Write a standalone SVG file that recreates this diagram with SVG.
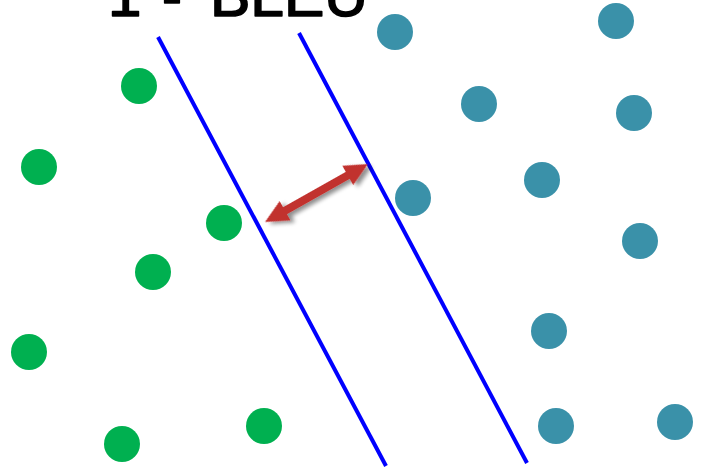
<svg xmlns="http://www.w3.org/2000/svg" width="703" height="475" viewBox="0 0 703 475">
<defs>
<style>
.g{fill:#00b050}
.t{fill:#3a91a9}
.sep{stroke:#0000ff;stroke-width:4;fill:none}
.title{font-family:"Liberation Sans",Arial,sans-serif;font-size:60px;fill:#000;stroke:#000;stroke-width:1.6;stroke-linejoin:round}
</style>
<filter id="sh" x="-20%" y="-40%" width="150%" height="180%">
<feGaussianBlur in="SourceAlpha" stdDeviation="2"/>
<feOffset dx="3" dy="4" result="b"/>
<feComponentTransfer><feFuncA type="linear" slope="0.45"/></feComponentTransfer>
<feMerge><feMergeNode/><feMergeNode in="SourceGraphic"/></feMerge>
</filter>
</defs>
<rect width="703" height="475" fill="#fff"/>
<text class="title" y="16"><tspan x="108">1</tspan><tspan x="162">-</tspan><tspan x="210" textLength="158" lengthAdjust="spacingAndGlyphs">BLEU</tspan></text>
<g id="connectors">
<line class="sep" x1="158" y1="37" x2="386" y2="466"/>
<line class="sep" x1="299" y1="33" x2="527" y2="463"/>
<polygon id="margin-arrow" filter="url(#sh)" fill="#c1302e" transform="translate(265,222) rotate(-29.4)" points="0,0 23,-11 23,-4 95,-4 95,-11 118,0 95,11 95,4 23,4 23,11"/>
</g>
<g id="green">
<circle id="g1" class="g" cx="139" cy="86" r="18"/>
<circle id="g2" class="g" cx="39" cy="167" r="18"/>
<circle id="g3" class="g" cx="224" cy="223" r="18"/>
<circle id="g4" class="g" cx="153" cy="272" r="18"/>
<circle id="g5" class="g" cx="29" cy="352" r="18"/>
<circle id="g6" class="g" cx="122" cy="444" r="18"/>
<circle id="g7" class="g" cx="264" cy="426" r="18"/>
</g>
<g id="teal">
<circle id="t1" class="t" cx="395" cy="32" r="18"/>
<circle id="t2" class="t" cx="616" cy="21" r="18"/>
<circle id="t3" class="t" cx="479" cy="104" r="18"/>
<circle id="t4" class="t" cx="634" cy="113" r="18"/>
<circle id="t5" class="t" cx="413" cy="198" r="18"/>
<circle id="t6" class="t" cx="542" cy="180" r="18"/>
<circle id="t7" class="t" cx="640" cy="241" r="18"/>
<circle id="t8" class="t" cx="549" cy="331" r="18"/>
<circle id="t9" class="t" cx="556" cy="426" r="18"/>
<circle id="t10" class="t" cx="675" cy="422" r="18"/>
</g>
</svg>
